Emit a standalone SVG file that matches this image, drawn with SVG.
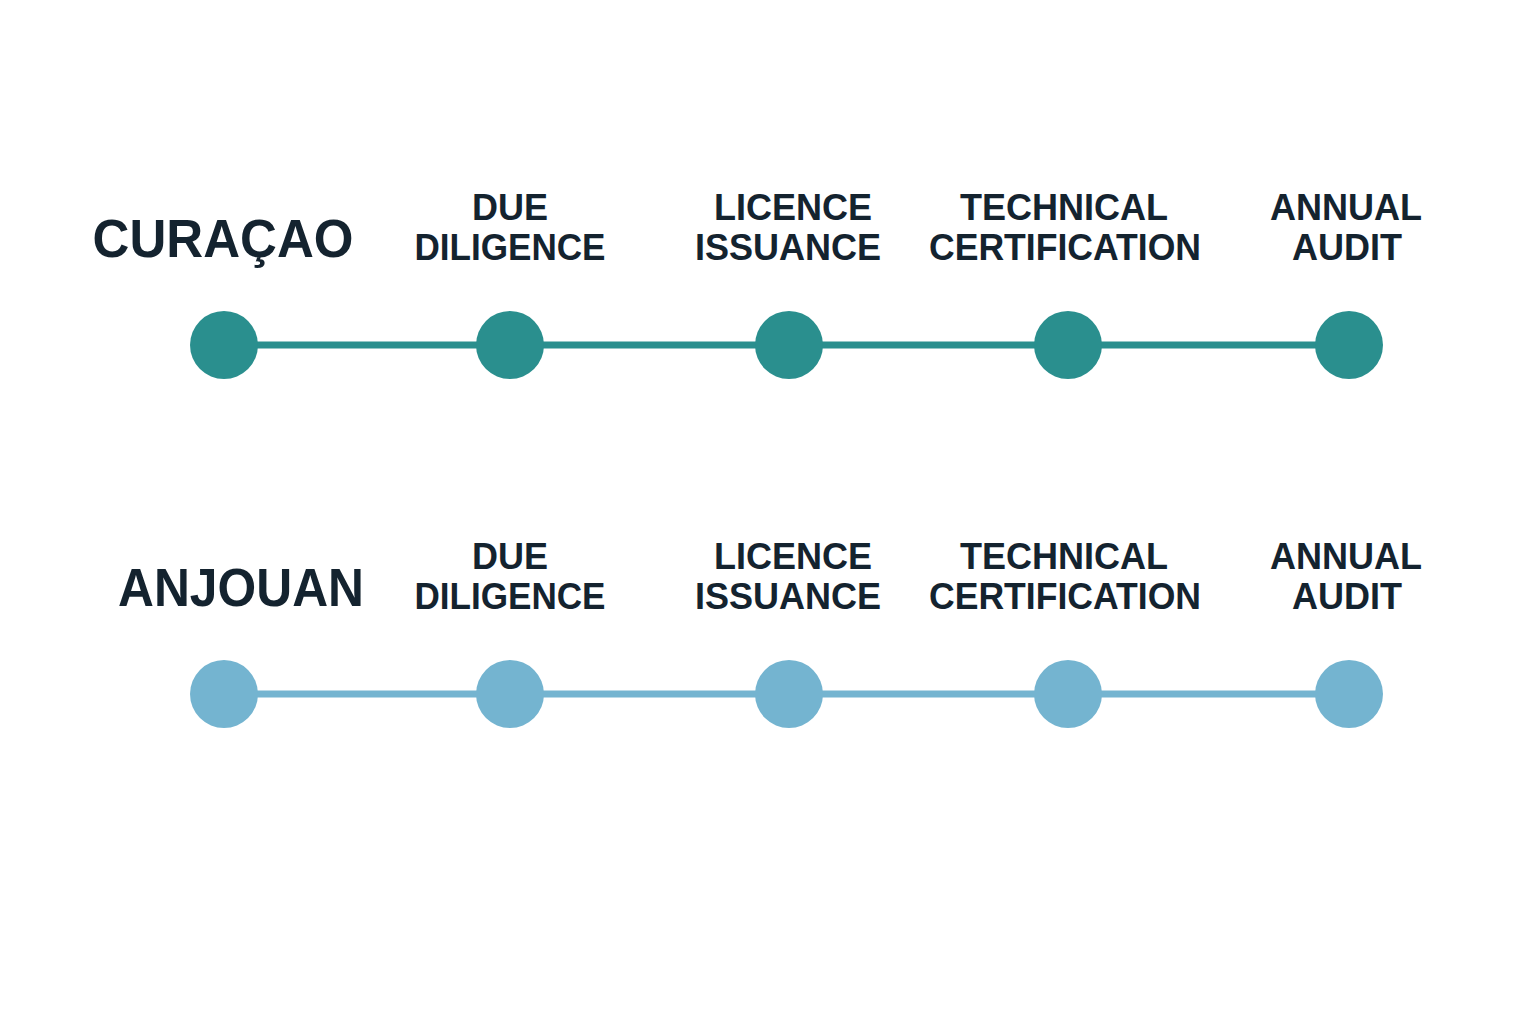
<svg xmlns="http://www.w3.org/2000/svg" width="1536" height="1024" viewBox="0 0 1536 1024">
<style>
.t{font-family:"Liberation Sans",Arial,sans-serif;font-weight:bold;fill:#14232f;text-anchor:middle}
.lab{font-size:36px}
.ttl{font-size:54px}
.c1{fill:#2a8f8e}
.c2{fill:#74b4d0}
.l1{stroke:#2a8f8e;stroke-width:7;fill:none}
.l2{stroke:#74b4d0;stroke-width:7;fill:none}
</style>
<rect width="1536" height="1024" fill="#ffffff"/>
<g id="connectors">
<line class="l1" x1="224" y1="345" x2="1349" y2="345"/>
<line class="l2" x1="224" y1="694" x2="1349" y2="694"/>
</g>
<g id="curacao-title"><text class="t ttl" x="223" y="257" textLength="261" lengthAdjust="spacingAndGlyphs">CURAÇAO</text></g>
<g id="c-start"><circle class="c1" cx="224" cy="345" r="34"/></g>
<g id="c-due"><circle class="c1" cx="510" cy="345" r="34"/><text class="t lab" x="510" y="220">DUE</text><text class="t lab" x="510" y="260" textLength="191" lengthAdjust="spacingAndGlyphs">DILIGENCE</text></g>
<g id="c-licence"><circle class="c1" cx="789" cy="345" r="34"/><text class="t lab" x="793" y="220">LICENCE</text><text class="t lab" x="788" y="260">ISSUANCE</text></g>
<g id="c-tech"><circle class="c1" cx="1068" cy="345" r="34"/><text class="t lab" x="1064" y="220">TECHNICAL</text><text class="t lab" x="1065" y="260" textLength="272" lengthAdjust="spacingAndGlyphs">CERTIFICATION</text></g>
<g id="c-audit"><circle class="c1" cx="1349" cy="345" r="34"/><text class="t lab" x="1346" y="220">ANNUAL</text><text class="t lab" x="1347" y="260">AUDIT</text></g>
<g id="anjouan-title"><text class="t ttl" x="241" y="606" textLength="246" lengthAdjust="spacingAndGlyphs">ANJOUAN</text></g>
<g id="a-start"><circle class="c2" cx="224" cy="694" r="34"/></g>
<g id="a-due"><circle class="c2" cx="510" cy="694" r="34"/><text class="t lab" x="510" y="569">DUE</text><text class="t lab" x="510" y="609" textLength="191" lengthAdjust="spacingAndGlyphs">DILIGENCE</text></g>
<g id="a-licence"><circle class="c2" cx="789" cy="694" r="34"/><text class="t lab" x="793" y="569">LICENCE</text><text class="t lab" x="788" y="609">ISSUANCE</text></g>
<g id="a-tech"><circle class="c2" cx="1068" cy="694" r="34"/><text class="t lab" x="1064" y="569">TECHNICAL</text><text class="t lab" x="1065" y="609" textLength="272" lengthAdjust="spacingAndGlyphs">CERTIFICATION</text></g>
<g id="a-audit"><circle class="c2" cx="1349" cy="694" r="34"/><text class="t lab" x="1346" y="569">ANNUAL</text><text class="t lab" x="1347" y="609">AUDIT</text></g>
</svg>
